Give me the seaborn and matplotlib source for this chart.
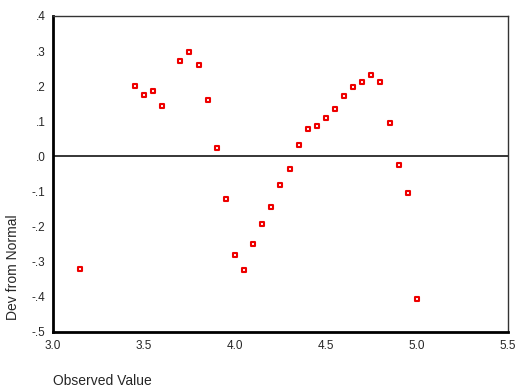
"""Detrended normal Q-Q plot"""
import numpy as np
import pandas as pd
import matplotlib
matplotlib.use('Agg')
import matplotlib.pyplot as plt
import seaborn as sns

# Data
observed = [3.15, 3.45, 3.50, 3.55, 3.60, 3.70, 3.75, 3.80, 3.85, 3.90,
            3.95, 4.00, 4.05, 4.10, 4.15, 4.20, 4.25, 4.30, 4.35, 4.40,
            4.45, 4.50, 4.55, 4.60, 4.65, 4.70, 4.75, 4.80, 4.85, 4.90,
            4.95, 5.00]
deviation = [-0.320, 0.200, 0.174, 0.187, 0.144, 0.272, 0.298, 0.260, 0.162, 0.023,
             -0.120, -0.282, -0.324, -0.249, -0.194, -0.143, -0.082, -0.035, 0.033, 0.079,
             0.087, 0.109, 0.135, 0.171, 0.197, 0.213, 0.233, 0.213, 0.095, -0.025,
             -0.105, -0.405]
x_ticks = [3.0, 3.5, 4.0, 4.5, 5.0, 5.5]
x_labels = ['3.0', '3.5', '4.0', '4.5', '5.0', '5.5']
y_ticks = [0.4, 0.3, 0.2, 0.1, 0.0, -0.1, -0.2, -0.3, -0.4, -0.5]
y_labels = ['.4', '.3', '.2', '.1', '.0', '-.1', '-.2', '-.3', '-.4', '-.5']

df = pd.DataFrame({'Observed Value': observed, 'Dev from Normal': deviation})

sns.set_style('white')
plt.rcParams['font.family'] = ['Liberation Sans', 'DejaVu Sans']

fig = plt.figure(figsize=(5.15, 3.9), dpi=100)
ax = fig.add_axes([0.103, 0.149, 0.883, 0.810])

ax.axhline(0, color='black', linewidth=1.1, zorder=1)
sns.scatterplot(data=df, x='Observed Value', y='Dev from Normal', ax=ax,
                marker='s', s=11, facecolor='white', edgecolor='#ee0000',
                linewidth=1.5, zorder=3)

ax.set_xlim(3.0, 5.5)
ax.set_ylim(-0.5, 0.4)
ax.set_xticks(x_ticks)
ax.set_xticklabels(x_labels)
ax.set_yticks(y_ticks)
ax.set_yticklabels(y_labels)
ax.tick_params(axis='both', direction='inout', length=3, width=2.5,
               color='black', labelsize=8.5, pad=4)
ax.set_xlabel('')
ax.set_ylabel('')

for side in ['left', 'bottom']:
    ax.spines[side].set_color('black')
    ax.spines[side].set_linewidth(2)
for side in ['top', 'right']:
    ax.spines[side].set_color('#333333')
    ax.spines[side].set_linewidth(1)

fig.text(53 / 515, 1 - 381 / 390, 'Observed Value', ha='left', va='center',
         fontsize=10)
fig.text(13 / 515, 1 - 267 / 390, 'Dev from Normal', ha='center', va='center',
         rotation=90, fontsize=10)

fig.savefig('out.png', dpi=100)
